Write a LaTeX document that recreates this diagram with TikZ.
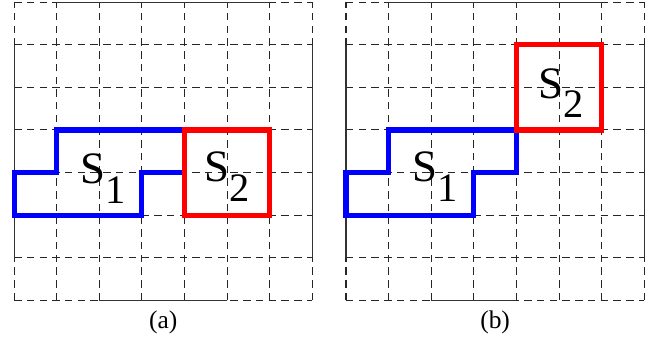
\documentclass[tikz,border=0pt]{standalone}
\usepackage{fontspec}
\setmainfont{Liberation Serif}
\usepackage{xcolor}
\usepackage{tikz}
\usetikzlibrary{positioning}

\newcommand{\setlabel}[1]{{\fontsize{30}{32}\selectfont S\raisebox{-13pt}{\fontsize{27}{29}\selectfont #1}}}

\tikzset{
  gridline/.style={dashed,dash pattern=on 5pt off 3.5pt,line width=0.7pt,black!85},
  frameline/.style={line width=0.7pt,black!80},
  setone/.style={line width=3.4pt,blue},
  settwo/.style={line width=3.4pt,red},
  caption/.style={font=\fontsize{17}{19}\selectfont}
}

\begin{document}
\begin{tikzpicture}
\useasboundingbox (0,0) rectangle (15.56,7.93);
% (a) neighbouring sets
\begin{scope}[shift={(0.33,0.88)}]
\foreach \i in {0,...,7} {
  \draw[gridline] (\i,0) -- (\i,7);
  \draw[gridline] (0,\i) -- (7,\i);
}
\draw[frameline] (1,7) -- (6,7);
\draw[frameline] (0,1) -- (0,6);
\draw[frameline] (7,1) -- (7,6);
\draw[frameline] (2,0) -- (5,0);
\draw[setone] (0,3) -- (1,3) -- (1,4) -- (4,4) -- (4,3) -- (3,3) -- (3,2) -- (0,2) -- cycle;
\draw[settwo] (4,2) rectangle (6,4);
\node (sa1) at (2.1,2.86) {\setlabel{1}};
\node (sa2) at (5.0,2.91) {\setlabel{2}};
\node[caption] (capa) at (3.5,-0.51) {(a)};
\end{scope}
% (b) sets touching at a corner
\begin{scope}[shift={(8.12,0.88)}]
\foreach \i in {0,...,7} {
  \draw[gridline] (\i,0) -- (\i,7);
  \draw[gridline] (0,\i) -- (7,\i);
}
\draw[frameline] (1,7) -- (6,7);
\draw[frameline] (0,1) -- (0,6);
\draw[frameline] (7,1) -- (7,6);
\draw[frameline] (2,0) -- (4,0);
\draw[setone] (0,3) -- (1,3) -- (1,4) -- (4,4) -- (4,3) -- (3,3) -- (3,2) -- (0,2) -- cycle;
\draw[settwo] (4,4) rectangle (6,6);
\node (sb1) at (2.1,2.9) {\setlabel{1}};
\node (sb2) at (5.05,4.86) {\setlabel{2}};
\node[caption] (capb) at (3.5,-0.51) {(b)};
\end{scope}
\end{tikzpicture}
\end{document}
